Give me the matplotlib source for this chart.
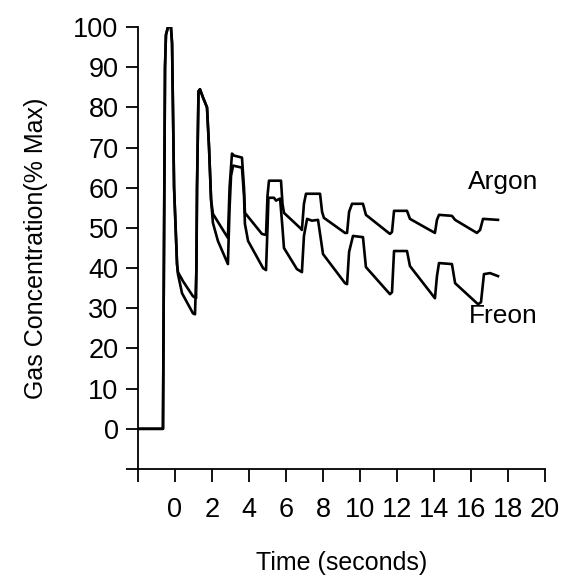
import matplotlib
matplotlib.use("Agg")
import matplotlib.pyplot as plt

plt.rcParams['font.family'] = ['Liberation Sans', 'DejaVu Sans']

# Argon trace (time in s, % max)
argon_t = [-2.0, -0.65, -0.54, -0.49, -0.38, -0.22, -0.16, -0.05, 0.11, 0.16, 0.43, 0.97, 1.14,
           1.19, 1.27, 1.35, 1.51, 1.73, 1.84, 1.95, 2.05, 2.86,
           2.95, 3.08, 3.19, 3.62, 3.73, 3.78, 4.70, 4.92,
           5.00, 5.08, 5.73, 5.81, 5.89, 6.76, 6.86,
           6.97, 7.08, 7.84, 7.95, 8.05, 9.19, 9.30,
           9.41, 9.57, 10.16, 10.32, 11.62, 11.73,
           11.84, 12.54, 12.70, 14.05,
           14.16, 14.27, 14.97, 15.14, 16.32, 16.49,
           16.65, 17.46]
argon_v = [0, 0, 90, 98, 100, 100, 96, 60, 41, 39, 36.75, 33, 32.5,
           60, 84, 84.5, 82.5, 80, 70, 57, 53.5, 47.5,
           60, 68.5, 68, 67.5, 60, 53.75, 48.5, 48.25,
           58, 61.75, 61.75, 56, 53.75, 50, 49.5,
           56, 58.5, 58.5, 54, 52.5, 48.75, 48.75,
           54, 56, 56, 53.25, 48.5, 49,
           54.25, 54.25, 52.25, 48.75,
           52, 53.25, 53, 52, 48.75, 49.5,
           52.25, 52]

# Freon trace (time in s, % max)
freon_t = [-2.0, -0.65, -0.54, -0.49, -0.38, -0.22, -0.16, -0.05, 0.11, 0.16, 0.38, 0.97, 1.08,
           1.16, 1.19, 1.27, 1.35, 1.51, 1.73, 1.84, 1.95, 2.05, 2.32, 2.86,
           2.95, 3.03, 3.14, 3.62, 3.73, 3.78, 3.95, 4.76, 4.92,
           5.00, 5.05, 5.35, 5.46, 5.68, 5.81, 5.89, 6.59, 6.86,
           6.97, 7.14, 7.40, 7.73, 7.89, 8.00, 9.19, 9.30,
           9.41, 9.62, 10.16, 10.32, 11.62, 11.73,
           11.84, 12.54, 12.70, 14.05,
           14.16, 14.27, 14.97, 15.14, 16.38, 16.54,
           16.70, 17.03, 17.46]
freon_v = [0, 0, 90, 98, 100, 100, 96, 60, 41, 38.5, 33.75, 28.75, 28.5,
           40, 60, 84, 84.5, 82.5, 80, 70, 57, 51.25, 46.75, 41,
           55, 63, 65.5, 65, 58, 51, 46.75, 40, 39.5,
           50, 57.5, 57.5, 56.8, 57.3, 50, 45, 39.75, 39,
           48, 52.25, 51.8, 52, 47, 43.5, 36.25, 36,
           44, 48, 47.7, 40.25, 33.5, 34,
           44.25, 44.25, 40.5, 32.5,
           38, 41.25, 41, 36.25, 31, 31.5,
           38.5, 38.75, 38]

x_ticks = [-2, 0, 2, 4, 6, 8, 10, 12, 14, 16, 18, 20]
x_labels = ['', '0', '2', '4', '6', '8', '10', '12', '14', '16', '18', '20']
y_ticks = [-10, 0, 10, 20, 30, 40, 50, 60, 70, 80, 90, 100]
y_labels = [''] + [str(v) for v in y_ticks[1:]]

fig = plt.figure(figsize=(5.63, 5.85), dpi=100)
ax = fig.add_axes([138 / 563, 1 - 469 / 585, (545 - 138) / 563, (469 - 27) / 585])

ax.plot(argon_t, argon_v, color='black', lw=1.9, solid_joinstyle='round')
ax.plot(freon_t, freon_v, color='black', lw=1.9, solid_joinstyle='round')

ax.set_xlim(-2, 20)
ax.set_ylim(-10, 100)
ax.set_xticks(x_ticks)
ax.set_xticklabels(x_labels)
ax.set_yticks(y_ticks)
ax.set_yticklabels(y_labels)
ax.tick_params(axis='both', direction='out', length=9, width=1.3, labelsize=19.5, pad=5)
ax.tick_params(axis='x', pad=11)
for s in ['top', 'right']:
    ax.spines[s].set_visible(False)
for s in ['left', 'bottom']:
    ax.spines[s].set_linewidth(1.3)

ax.set_xlabel('Time (seconds)', fontsize=18, labelpad=20)
ax.set_ylabel('Gas Concentration(% Max)', fontsize=18, labelpad=18)

ax.text(17.75, 61.5, 'Argon', fontsize=19, ha='center', va='center')
ax.text(17.75, 28, 'Freon', fontsize=19, ha='center', va='center')

fig.savefig('out.png', dpi=100)
